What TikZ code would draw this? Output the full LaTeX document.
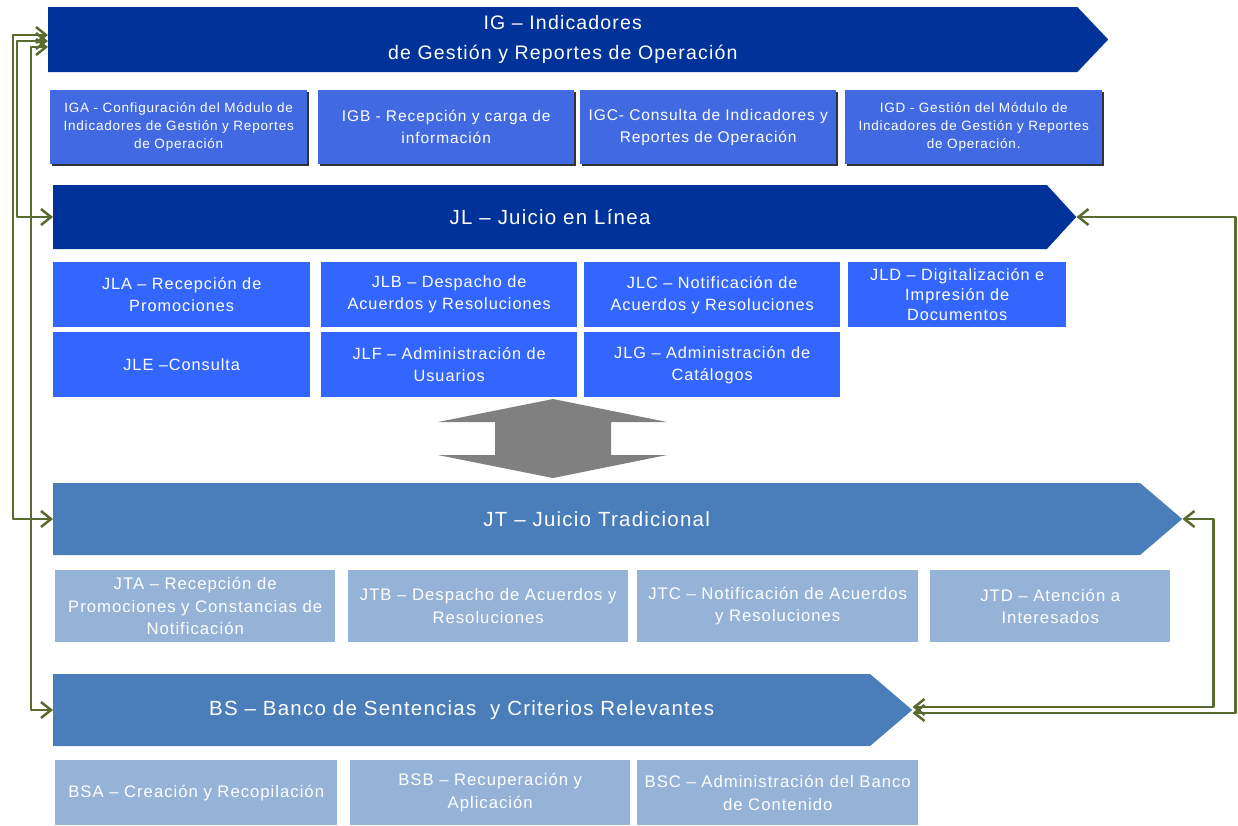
\documentclass[tikz,border=0pt]{standalone}
\usepackage{fontspec}
\setmainfont{Liberation Sans}[LetterSpace=6]
\usetikzlibrary{shapes.symbols,arrows.meta,shadows}
\definecolor{navy}{RGB}{0,51,153}
\definecolor{igblue}{RGB}{65,105,225}
\definecolor{jlblue}{RGB}{51,102,255}
\definecolor{steel}{RGB}{74,126,187}
\definecolor{pale}{RGB}{149,179,215}
\definecolor{olive}{RGB}{90,107,48}
\definecolor{arrowgray}{RGB}{128,128,128}
\begin{document}
\begin{tikzpicture}[x=1pt, y=-1pt, line join=round, >={Straight Barb[length=10pt,width=16pt]},
	banner/.style={signal, signal to=east, anchor=west, inner sep=0pt, text=white, align=center, font=\fontsize{20.5}{30}\selectfont},
	sub/.style={rectangle, anchor=north west, inner xsep=3pt, inner ysep=0pt, text=white, align=center, text width=#1},
	igsub/.style={sub=#1, fill=igblue, minimum height=74pt, font=\fontsize{13.5}{18}\selectfont,
		drop shadow={shadow xshift=1.5pt, shadow yshift=-2pt, fill=black!80, opacity=1}},
	jlsub/.style={sub=#1, fill=jlblue, minimum height=65pt, font=\fontsize{16.3}{22}\selectfont},
	jtsub/.style={sub=#1, fill=pale, minimum height=72pt, font=\fontsize{16.7}{22.5}\selectfont},
	link/.style={draw=olive, line width=2.5pt, <->}]
	\useasboundingbox (0,0) rectangle (1238,825);
	% banners
	\node[banner, fill=navy, minimum width=1060pt, minimum height=65pt, signal pointer angle=93, font=\fontsize{19.5}{30}\selectfont] (ig) at (48,39.5) {IG – Indicadores\\de Gestión y Reportes de Operación};
	\node[banner, fill=navy, minimum width=1023pt, minimum height=64pt, signal pointer angle=95] (jl) at (53,217) {JL – Juicio en Línea};
	\node[banner, fill=steel, minimum width=1129pt, minimum height=72pt, signal pointer angle=81] (jt) at (53,519) {JT – Juicio Tradicional};
	\node[banner, fill=steel, minimum width=859pt, minimum height=72pt, signal pointer angle=81] (bs) at (53,710) {BS – Banco de Sentencias\ \ y Criterios Relevantes};
	% IG
	\node[igsub=251pt] (iga) at (50,90) {IGA - Configuración del Módulo de\\Indicadores de Gestión y Reportes\\de Operación};
	\node[igsub=250pt, font=\fontsize{15.5}{22}\selectfont] (igb) at (318,90) {IGB - Recepción y carga de\\información};
	\node[igsub=250pt, font=\fontsize{15.5}{22}\selectfont] (igc) at (580,90) {IGC- Consulta de Indicadores y\\Reportes de Operación};
	\node[igsub=251pt] (igd) at (845,90) {IGD - Gestión del Módulo de\\Indicadores de Gestión y Reportes\\de Operación.};
	% JL
	\node[jlsub=251pt] (jla) at (53,262) {JLA – Recepción de\\Promociones};
	\node[jlsub=250pt] (jlb) at (321,262) {JLB – Despacho de\\Acuerdos y Resoluciones};
	\node[jlsub=250pt] (jlc) at (584,262) {JLC – Notificación de\\Acuerdos y Resoluciones};
	\node[jlsub=212pt, font=\fontsize{16.3}{20}\selectfont] (jld) at (848,262) {JLD – Digitalización e\\Impresión de\\Documentos};
	\node[jlsub=251pt] (jle) at (53,332) {JLE –Consulta};
	\node[jlsub=250pt] (jlf) at (321,332) {JLF – Administración de\\Usuarios};
	\node[jlsub=250pt] (jlg) at (584,332) {JLG – Administración de\\Catálogos};
	% JT
	\node[jtsub=274pt] (jta) at (55,570) {JTA – Recepción de\\Promociones y Constancias de\\Notificación};
	\node[jtsub=274pt] (jtb) at (348,570) {JTB – Despacho de Acuerdos y\\Resoluciones};
	\node[jtsub=275pt] (jtc) at (637,570) {JTC – Notificación de Acuerdos\\y Resoluciones};
	\node[jtsub=234pt] (jtd) at (930,570) {JTD – Atención a\\Interesados};
	% BS
	\node[jtsub=276pt, minimum height=65pt] (bsa) at (55,760) {BSA – Creación y Recopilación};
	\node[jtsub=274pt, minimum height=65pt] (bsb) at (350,760) {BSB – Recuperación y\\Aplicación};
	\node[jtsub=275pt, minimum height=65pt] (bsc) at (637,760) {BSC – Administración del Banco\\de Contenido};
	% double arrow JL <-> JT
	\fill[arrowgray] (553,399) -- (667,422) -- (611,422) -- (611,455) -- (667,455) -- (553,478) -- (438,455) -- (495,455) -- (495,422) -- (438,422) -- cycle;
	% links
	\draw[link] ([yshift=4.5pt]ig.west) -- ++(-35,0) |- (jt.west);
	\draw[link] ([yshift=-1.5pt]ig.west) -- ++(-31,0) |- (jl.west);
	\draw[link] ([yshift=-7.5pt]ig.west) -- ++(-17,0) |- (bs.west);
	\draw[link] (jl.east) -- ++(159,0) |- ([yshift=-3pt]bs.east);
	\draw[link] (jt.east) -- ++(31,0) |- ([yshift=3pt]bs.east);
\end{tikzpicture}
\end{document}
